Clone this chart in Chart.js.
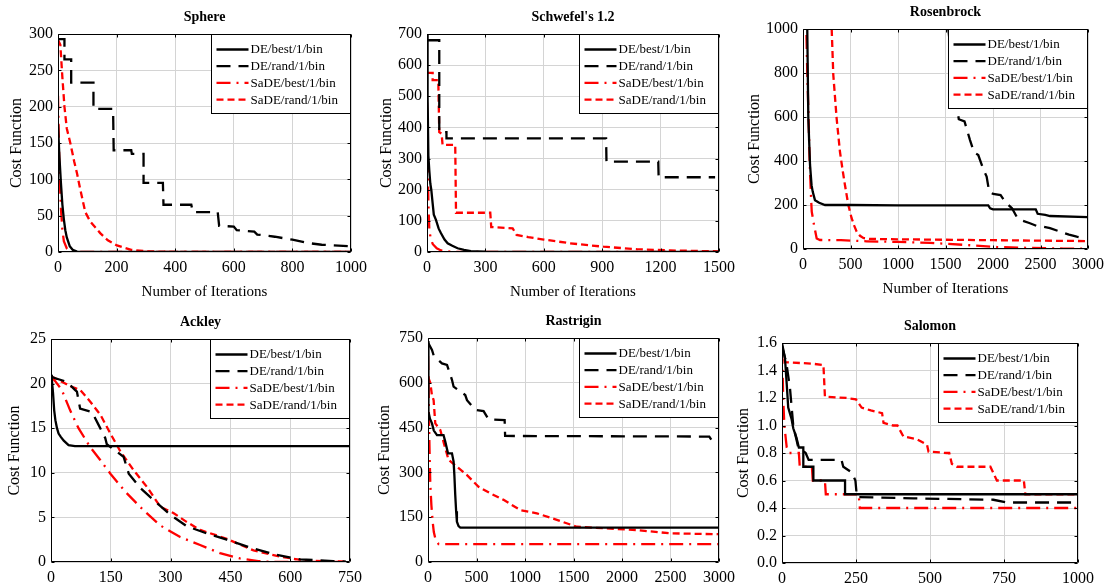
<!DOCTYPE html>
<html>
<head>
<meta charset="utf-8">
<script src="https://cdn.jsdelivr.net/npm/chart.js@4.4.1/dist/chart.umd.min.js"></script>
<style>
  html, body { margin: 0; padding: 0; background: #fff; width: 1110px; height: 586px; overflow: hidden; position: relative; }
  canvas { position: absolute; }
</style>
</head>
<body>
<script>
"use strict";

const SERIES_NAMES = ["DE/best/1/bin", "DE/rand/1/bin", "SaDE/best/1/bin", "SaDE/rand/1/bin"];

// [iteration, cost] pairs
const SPHERE_DE_BEST = [[0,175],[5,130],[10,95],[15,65],[20,45],[25,30],[30,20],[40,8],[50,3],[65,0.5],[100,0],[1000,0]];
const SPHERE_DE_RAND = [[0,293],[22,293],[22,265],[45,265],[45,233],[121,233],[121,197],[188,197],[190,140],[250,140],[252,135],[292,135],[292,95],[358,95],[360,65],[455,65],[460,55],[545,55],[550,36],[600,35],[610,30],[670,28],[680,24],[740,21],[800,17],[860,12],[900,10],[990,8]];
const SPHERE_SADE_BEST = [[0,215],[3,150],[6,100],[10,60],[15,30],[20,15],[30,5],[40,1],[60,0],[1000,0]];
const SPHERE_SADE_RAND = [[0,292],[8,285],[15,240],[22,200],[30,170],[42,150],[55,125],[65,108],[75,88],[93,55],[110,42],[144,26],[170,16],[201,9],[250,3],[300,1],[400,0],[1000,0]];

const SCHW_DE_BEST = [[0,700],[3,500],[7,310],[12,260],[17,220],[22,200],[29,156],[35,120],[46,103],[60,75],[72,60],[90,40],[106,28],[130,20],[157,12],[190,7],[225,3],[300,1],[400,0],[1500,0]];
const SCHW_DE_RAND = [[0,680],[63,680],[63,385],[100,385],[100,365],[920,365],[922,290],[1188,290],[1190,240],[1480,240]];
const SCHW_SADE_BEST = [[0,480],[3,350],[5,230],[8,140],[12,70],[20,40],[30,25],[50,12],[72,5],[120,1],[200,0],[1500,0]];
const SCHW_SADE_RAND = [[0,575],[29,575],[29,552],[58,552],[63,385],[75,380],[80,344],[145,344],[149,126],[325,126],[330,80],[440,76],[460,55],[520,48],[600,40],[735,28],[906,17],[1077,9],[1249,5],[1500,2]];

const ROSEN_DE_BEST = [[40,1200],[45,995],[56,594],[74,382],[90,290],[102,261],[126,222],[170,210],[232,200],[500,200],[1000,198],[1950,198],[1970,185],[2000,180],[2450,180],[2470,160],[2550,155],[2600,150],[3000,145]];
const ROSEN_DE_RAND = [[1500,1100],[1530,1000],[1560,870],[1600,700],[1640,590],[1700,580],[1758,495],[1800,440],[1845,427],[1900,360],[1933,329],[1960,260],[2003,250],[2080,245],[2126,215],[2200,185],[2249,147],[2300,130],[2389,117],[2460,105],[2530,101],[2600,95],[2705,79],[2800,65],[2881,56],[2950,50]];
const ROSEN_SADE_BEST = [[20,1100],[35,1000],[45,800],[56,640],[70,400],[85,230],[92,170],[116,109],[144,48],[179,41],[400,40],[670,35],[1000,32],[1337,28],[1688,19],[2039,9],[2390,5],[2740,2],[3000,1]];
const ROSEN_SADE_RAND = [[290,1100],[302,1000],[319,791],[354,594],[389,442],[420,350],[442,290],[477,200],[512,140],[540,105],[565,79],[600,60],[635,50],[700,46],[1000,44],[1500,42],[2000,40],[2500,38],[3000,36]];

const ACK_DE_BEST = [[0,21],[2,20.5],[5,19],[8,17],[11,15.9],[15,15],[19,14.4],[25,14],[32,13.6],[44,13.1],[60,13],[750,13]];
const ACK_DE_RAND = [[0,20.8],[11,20.6],[40,20.2],[60,19.3],[65,19.1],[73,17.2],[103,16.8],[119,15.4],[136,13.9],[140,13.2],[158,12.6],[182,11.8],[195,9.9],[224,8.3],[261,6.8],[299,5.3],[341,4.0],[391,3.2],[441,2.5],[508,1.5],[566,0.8],[625,0.3],[708,0.1],[740,0.05]];
const ACK_SADE_BEST = [[0,20.8],[10,20.3],[27,19.3],[48,17.0],[69,15.0],[98,12.9],[124,11.4],[149,9.9],[186,7.9],[232,5.8],[274,4.1],[324,2.8],[374,1.9],[424,1.0],[474,0.4],[520,0.1],[560,0],[750,0]];
const ACK_SADE_RAND = [[0,20.8],[20,20.4],[48,19.7],[73,19.3],[98,18.0],[124,16.5],[149,14.4],[174,12.4],[207,10.3],[241,8.4],[274,6.2],[307,5.5],[340,4.5],[374,3.6],[441,2.6],[508,1.3],[574,0.6],[641,0.15],[740,0.05]];

const RAST_DE_BEST = [[0,740],[3,600],[6,503],[20,480],[41,464],[60,440],[93,425],[160,425],[178,403],[206,364],[247,364],[264,336],[272,290],[281,224],[290,170],[298,135],[315,120],[333,115],[3000,115]];
const RAST_DE_RAND = [[0,735],[41,710],[60,690],[144,665],[196,660],[247,610],[264,587],[384,559],[402,542],[487,509],[573,505],[624,478],[790,475],[795,422],[2900,420],[2920,410]];
const RAST_SADE_BEST = [[0,690],[5,600],[10,480],[13,425],[18,340],[24,258],[35,190],[48,135],[60,100],[75,79],[109,60],[3000,60]];
const RAST_SADE_RAND = [[0,620],[24,600],[40,560],[58,542],[75,464],[127,442],[170,390],[212,342],[298,319],[402,291],[521,252],[642,230],[779,208],[951,174],[1122,163],[1328,141],[1534,118],[1808,113],[2152,107],[2495,96],[3000,93]];

const SAL_DE_BEST = [[0,1.6],[10,1.49],[16,1.30],[21,1.13],[32,1.05],[38,0.98],[49,0.91],[57,0.84],[72,0.84],[72,0.70],[106,0.70],[106,0.60],[213,0.60],[213,0.50],[1000,0.50]];
const SAL_DE_RAND = [[0,1.58],[15,1.45],[27,1.27],[38,1.0],[55,0.84],[80,0.80],[90,0.75],[201,0.75],[207,0.70],[235,0.66],[248,0.60],[253,0.48],[445,0.47],[714,0.46],[760,0.44],[1000,0.44]];
const SAL_SADE_BEST = [[0,1.55],[2,1.4],[4,1.2],[8,1.0],[16,0.84],[25,0.80],[57,0.80],[60,0.70],[101,0.70],[104,0.60],[145,0.60],[148,0.50],[259,0.50],[263,0.40],[1000,0.40]];
const SAL_SADE_RAND = [[0,1.56],[5,1.52],[10,1.46],[100,1.45],[140,1.44],[145,1.21],[220,1.20],[250,1.19],[269,1.13],[300,1.11],[338,1.09],[343,1.02],[375,1.0],[390,1.0],[410,0.92],[456,0.90],[490,0.86],[495,0.81],[557,0.80],[565,0.80],[574,0.72],[591,0.70],[704,0.70],[726,0.60],[817,0.60],[822,0.50],[1000,0.50]];

const STYLES = [
  { color: "#000000", dash: [] },
  { color: "#000000", dash: [14, 8] },
  { color: "#ff0000", dash: [14, 6, 2, 6] },
  { color: "#ff0000", dash: [7, 4] },
];

const FONT = '"Liberation Serif", "Times New Roman", serif';

// plot rect in page pixels: [left, top, right, bottom]
const PANELS = [
  { title: "Sphere", plot: [58, 34, 351, 252], xMax: 1000, xStep: 200, yMax: 300, yStep: 50, dec: 0, xTitle: true, yOff: 41,
    series: [SPHERE_DE_BEST, SPHERE_DE_RAND, SPHERE_SADE_BEST, SPHERE_SADE_RAND] },
  { title: "Schwefel's 1.2", plot: [427, 34, 719, 252], xMax: 1500, xStep: 300, yMax: 700, yStep: 100, dec: 0, xTitle: true, yOff: 40,
    series: [SCHW_DE_BEST, SCHW_DE_RAND, SCHW_SADE_BEST, SCHW_SADE_RAND] },
  { title: "Rosenbrock", plot: [803, 29, 1088, 249], xMax: 3000, xStep: 500, yMax: 1000, yStep: 200, dec: 0, xTitle: true, yOff: 48,
    series: [ROSEN_DE_BEST, ROSEN_DE_RAND, ROSEN_SADE_BEST, ROSEN_SADE_RAND] },
  { title: "Ackley", plot: [51, 339, 350, 562], xMax: 750, xStep: 150, yMax: 25, yStep: 5, dec: 0, xTitle: false, yOff: 36,
    series: [ACK_DE_BEST, ACK_DE_RAND, ACK_SADE_BEST, ACK_SADE_RAND] },
  { title: "Rastrigin", plot: [428, 338, 719, 562], xMax: 3000, xStep: 500, yMax: 750, yStep: 150, dec: 0, xTitle: false, yOff: 43,
    series: [RAST_DE_BEST, RAST_DE_RAND, RAST_SADE_BEST, RAST_SADE_RAND] },
  { title: "Salomon", plot: [782, 343, 1078, 563], xMax: 1000, xStep: 250, yMax: 1.6, yStep: 0.2, dec: 1, xTitle: false, yOff: 38,
    series: [SAL_DE_BEST, SAL_DE_RAND, SAL_SADE_BEST, SAL_SADE_RAND] },
];

const YW = 60, PR = 26, PT = 36, XH = 50;

// box, inward ticks, title and legend drawn MATLAB-style
const framePlugin = {
  id: "frame",
  afterDatasetsDraw(chart, args, opts) {
    const { ctx, chartArea: a, scales: { x, y } } = chart;
    const l = Math.round(a.left) + 0.5, r = Math.round(a.right) - 0.5;
    const t = Math.round(a.top) + 0.5, b = Math.round(a.bottom) - 0.5;
    ctx.save();
    ctx.strokeStyle = "#000";
    ctx.lineWidth = 1;
    ctx.setLineDash([]);
    ctx.beginPath();
    ctx.rect(l, t, r - l, b - t);
    x.ticks.forEach((tk) => {
      const px = Math.round(x.getPixelForValue(tk.value)) + 0.5;
      ctx.moveTo(px, b); ctx.lineTo(px, b - 3);
      ctx.moveTo(px, t); ctx.lineTo(px, t + 3);
    });
    y.ticks.forEach((tk) => {
      const py = Math.round(y.getPixelForValue(tk.value)) + 0.5;
      ctx.moveTo(l, py); ctx.lineTo(l + 3, py);
      ctx.moveTo(r, py); ctx.lineTo(r - 3, py);
    });
    ctx.stroke();

    // title
    ctx.fillStyle = "#000";
    ctx.font = "bold 14px " + FONT;
    ctx.textAlign = "center";
    ctx.textBaseline = "middle";
    ctx.fillText(opts.text, (a.left + a.right) / 2, a.top - 17);

    // legend box
    const bw = 139, bh = 79;
    const bx = Math.round(a.right) - bw - 0.5, by = t;
    ctx.fillStyle = "#fff";
    ctx.fillRect(bx, by, bw, bh);
    ctx.strokeStyle = "#000";
    ctx.strokeRect(bx, by, bw, bh);
    ctx.font = "13px " + FONT;
    ctx.textAlign = "left";
    chart.data.datasets.forEach((ds, i) => {
      const ly = by + 15 + i * 16.7;
      ctx.strokeStyle = ds.borderColor;
      ctx.lineWidth = ds.borderWidth;
      ctx.setLineDash(ds.borderDash);
      ctx.beginPath();
      ctx.moveTo(bx + 5, ly);
      ctx.lineTo(bx + 37, ly);
      ctx.stroke();
      ctx.fillStyle = "#000";
      ctx.fillText(ds.label, bx + 39, ly + 0.5);
    });
    ctx.restore();
  },
};

function makePanel(p) {
  const [L, T, R, B] = p.plot;
  const w = (R - L) + YW + PR, h = (B - T) + PT + XH;
  const cv = document.createElement("canvas");
  cv.width = w;
  cv.height = h;
  cv.style.left = (L - YW) + "px";
  cv.style.top = (T - PT) + "px";
  cv.style.width = w + "px";
  cv.style.height = h + "px";
  document.body.appendChild(cv);

  const gridColor = "#d4d4d4";
  new Chart(cv, {
    type: "line",
    data: {
      datasets: p.series.map((s, i) => ({
        label: SERIES_NAMES[i],
        data: s.map(([x, y]) => ({ x, y })),
        borderColor: STYLES[i].color,
        borderDash: STYLES[i].dash,
        borderWidth: 2.3,
        pointRadius: 0,
        fill: false,
        tension: 0,
      })),
    },
    options: {
      responsive: false,
      animation: false,
      devicePixelRatio: 1,
      layout: { padding: { top: PT, right: PR, left: 0, bottom: 0 } },
      plugins: {
        legend: { display: false },
        tooltip: { enabled: false },
        frame: { text: p.title },
      },
      scales: {
        x: {
          type: "linear",
          min: 0,
          max: p.xMax,
          grid: { color: gridColor, drawTicks: false },
          border: { display: false },
          ticks: { stepSize: p.xStep, color: "#000", font: { family: FONT, size: 16 }, padding: 6, maxRotation: 0, autoSkip: false,
            callback: (v) => String(v) },
          title: { display: p.xTitle, text: "Number of Iterations", color: "#000", font: { family: FONT, size: 15 }, padding: { top: 0, bottom: 1 } },
          afterFit(s) { s.height = XH; s.paddingLeft = 0; s.paddingRight = 0; },
        },
        y: {
          min: 0,
          max: p.yMax,
          grid: { color: gridColor, drawTicks: false },
          border: { display: false },
          ticks: { stepSize: p.yStep, color: "#000", font: { family: FONT, size: 16 }, padding: 5,
            callback: (v) => Number(v).toFixed(p.dec) },
          title: { display: true, text: "Cost Function", color: "#000", font: { family: FONT, size: 16 }, padding: { top: YW - p.yOff - 9.6, bottom: 0 } },
          afterFit(s) { s.width = YW; s.paddingTop = 0; s.paddingBottom = 0; },
        },
      },
    },
    plugins: [framePlugin],
  });
}

PANELS.forEach(makePanel);
</script>
</body>
</html>
